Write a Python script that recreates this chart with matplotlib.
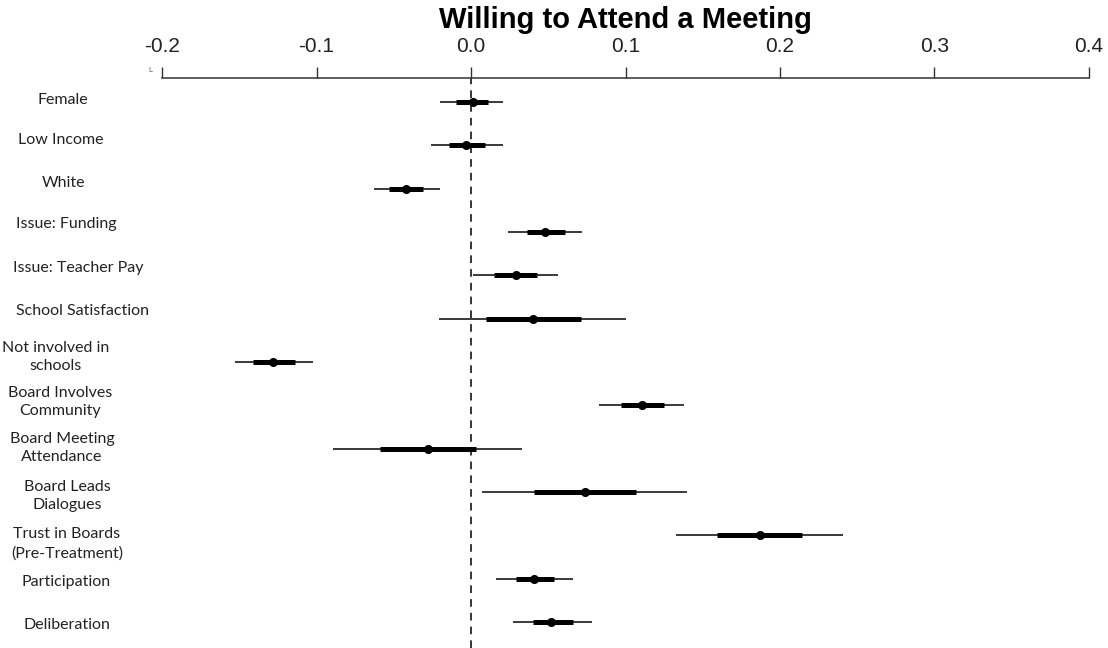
import matplotlib
matplotlib.use("Agg")
import matplotlib.pyplot as plt
import numpy as np

# ---------------- data ----------------
title = "Willing to Attend a Meeting"
categories = ["Female", "Low Income", "White", "Issue: Funding", "Issue: Teacher Pay",
              "School Satisfaction", "Not involved in\nschools", "Board Involves\nCommunity",
              "Board Meeting\nAttendance", "Board Leads\nDialogues", "Trust in Boards\n(Pre-Treatment)",
              "Participation", "Deliberation"]
estimate = [0.001, -0.003, -0.042, 0.048, 0.029, 0.040, -0.128, 0.111, -0.028, 0.074, 0.187, 0.041, 0.052]
outer_lo = [-0.020, -0.026, -0.063, 0.024, 0.001, -0.021, -0.153, 0.083, -0.089, 0.007, 0.133, 0.016, 0.027]
outer_hi = [0.021, 0.021, -0.020, 0.072, 0.056, 0.100, -0.102, 0.138, 0.033, 0.140, 0.241, 0.066, 0.078]
inner_lo = [-0.010, -0.014, -0.053, 0.036, 0.015, 0.010, -0.141, 0.097, -0.059, 0.041, 0.159, 0.029, 0.040]
inner_hi = [0.011, 0.009, -0.031, 0.061, 0.043, 0.071, -0.114, 0.125, 0.003, 0.107, 0.214, 0.054, 0.066]
xticks = [-0.2, -0.1, 0.0, 0.1, 0.2, 0.3, 0.4]
xticklabels = ["-0.2", "-0.1", "0.0", "0.1", "0.2", "0.3", "0.4"]

# ---------------- layout (pixels) ----------------
W, H = 1108, 648
label_cx = [63, 61, 63, 66, 78, 83, 56, 60, 62, 67, 67, 66, 67]
label_cy = [100, 140, 183, 224, 268, 311, 357, 402, 448, 496, 544, 582, 625]

fig = plt.figure(figsize=(W / 100, H / 100), dpi=100)
ax = fig.add_axes([162 / W, 0.0, (1089 - 162) / W, 1 - 78 / H])

n = len(categories)
ypos = np.arange(n)
ax.set_xlim(-0.2, 0.4)
ax.set_ylim(12.6, -0.554)

ax.axvline(0, color="black", lw=1.1, ls=(0, (5, 4)), zorder=1)
ax.hlines(ypos, outer_lo, outer_hi, color="#3a3a3a", lw=1.4, zorder=2)
ax.hlines(ypos, inner_lo, inner_hi, color="black", lw=3.6, zorder=3)
ax.plot(estimate, ypos, "o", color="black", ms=5.5, zorder=4)

for s in ["left", "right", "bottom"]:
    ax.spines[s].set_visible(False)
ax.spines["top"].set_bounds(-0.2, 0.4)
ax.spines["top"].set_color("#333333")
ax.spines["top"].set_linewidth(1.1)
ax.xaxis.tick_top()
ax.set_xticks(xticks)
ax.set_xticklabels(xticklabels, fontsize=15, family="Liberation Sans", color="#222222")
ax.tick_params(axis="x", direction="out", length=8, width=1.0, color="#333333", pad=8)
ax.set_yticks([])

for lab, cx, cy in zip(categories, label_cx, label_cy):
    fig.text(cx / W, 1 - cy / H, lab, ha="center", va="center", fontsize=11.5,
             family=["Lato", "DejaVu Sans"], color="#222222",
             linespacing=1.45, multialignment="center")

fig.text(625 / W, 1 - 20 / H, title, ha="center", va="center", fontsize=21,
         fontweight="bold", family="Liberation Sans", color="black")
fig.text(150 / W, 1 - 70 / H, "L", ha="center", va="center", fontsize=5, color="#555555")

fig.savefig("out.png", dpi=100)
